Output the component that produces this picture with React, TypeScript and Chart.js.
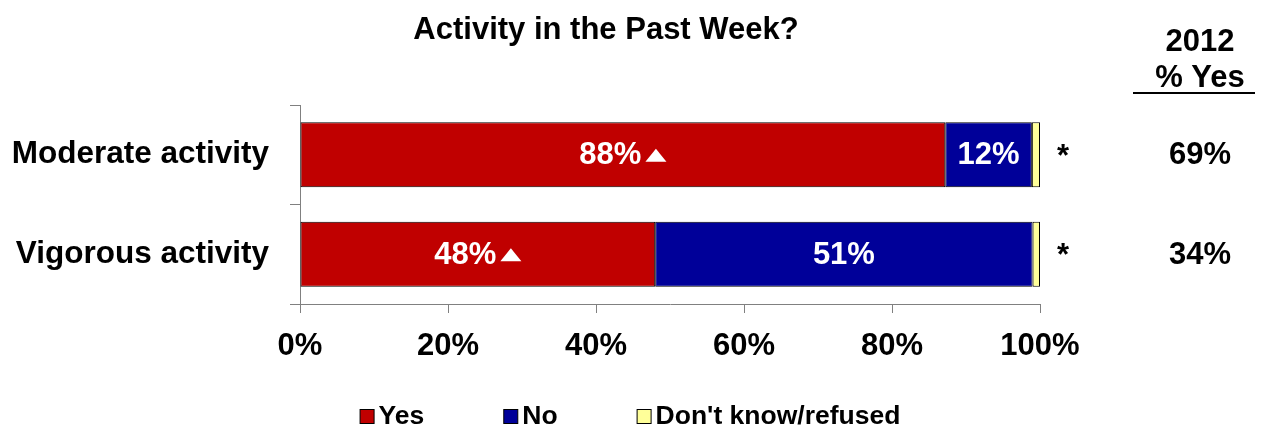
import { useEffect, useRef } from 'react';
import { Chart, registerables } from 'chart.js';

Chart.register(...registerables);

const categories = ['Moderate activity', 'Vigorous activity'];
const yesValues = [87.2, 48.0];
const noValues = [11.7, 51.0];
const dkValues = [1.1, 1.0];
const yesLabels = ['88%', '48%'];
const noLabels = ['12%', '51%'];
const yesSignificantUp = [true, true];
const dkLabels = ['*', '*'];
const yes2012 = ['69%', '34%'];
const seriesNames = ['Yes', 'No', "Don't know/refused"];
const seriesColors = ['#C00000', '#000099', '#FFFF99'];
const titleText = 'Activity in the Past Week?';
const sideHeader = ['2012', '% Yes'];

const FONT = "'Liberation Sans', Arial, Helvetica, sans-serif";

const overlayPlugin = {
  id: 'overlay',
  afterDatasetsDraw(chart: any) {
    const ctx = chart.ctx as CanvasRenderingContext2D;
    const yesMeta = chart.getDatasetMeta(0);
    const noMeta = chart.getDatasetMeta(1);
    const dkMeta = chart.getDatasetMeta(2);
    ctx.save();
    ctx.textBaseline = 'middle';
    ctx.font = `bold 31px ${FONT}`;
    categories.forEach((_, i) => {
      const yb = yesMeta.data[i] as any;
      const nb = noMeta.data[i] as any;
      const db = dkMeta.data[i] as any;
      const cy = yb.y + 1;
      const cxYes = (yb.x + yb.base) / 2;
      const txt = yesLabels[i];
      const w = ctx.measureText(txt).width;
      const triW = yesSignificantUp[i] ? 21 : 0;
      const gap = yesSignificantUp[i] ? 4 : 0;
      const start = cxYes - (w + gap + triW) / 2;
      ctx.fillStyle = '#FFFFFF';
      ctx.textAlign = 'left';
      ctx.fillText(txt, start, cy);
      if (yesSignificantUp[i]) {
        const tx = start + w + gap;
        ctx.beginPath();
        ctx.moveTo(tx, cy + 6);
        ctx.lineTo(tx + triW, cy + 6);
        ctx.lineTo(tx + triW / 2, cy - 7);
        ctx.closePath();
        ctx.fill();
      }
      ctx.textAlign = 'center';
      ctx.fillText(noLabels[i], (nb.x + nb.base) / 2, cy);
      ctx.fillStyle = '#000000';
      ctx.textBaseline = 'alphabetic';
      ctx.fillText(dkLabels[i], db.x + 23, yb.y + 11);
      ctx.textBaseline = 'middle';
      ctx.fillText(yes2012[i], 1200, cy);
    });

    // Title
    ctx.fillStyle = '#000000';
    ctx.textAlign = 'center';
    ctx.textBaseline = 'alphabetic';
    ctx.font = `bold 31px ${FONT}`;
    ctx.fillText(titleText, 606, 39);

    // side header
    ctx.fillText(sideHeader[0], 1200, 51);
    ctx.fillText(sideHeader[1], 1200, 87);
    ctx.strokeStyle = '#000000';
    ctx.lineWidth = 2;
    ctx.beginPath();
    ctx.moveTo(1133, 93);
    ctx.lineTo(1255, 93);
    ctx.stroke();

    // Legend
    ctx.textBaseline = 'middle';
    ctx.font = `bold 26.5px ${FONT}`;
    const box = 14;
    const boxGap = 5;
    const itemGap = 79;
    const widths = seriesNames.map((n) => box + boxGap + ctx.measureText(n).width);
    const total = widths.reduce((a, b) => a + b, 0) + itemGap * (widths.length - 1);
    let x = 630 - total / 2;
    const ly = 416;
    seriesNames.forEach((n, k) => {
      ctx.fillStyle = seriesColors[k];
      ctx.fillRect(x + 0.5, ly - box / 2 + 0.5, box, box);
      ctx.strokeStyle = '#000000';
      ctx.lineWidth = 1;
      ctx.strokeRect(x + 0.5, ly - box / 2 + 0.5, box, box);
      ctx.fillStyle = '#000000';
      ctx.textAlign = 'left';
      ctx.fillText(n, x + box + boxGap, ly + 1);
      x += widths[k] + itemGap;
    });
    ctx.restore();
  },
};

export default function App() {
  const canvasRef = useRef<HTMLCanvasElement | null>(null);

  useEffect(() => {
    document.body.style.margin = '0';
    const canvas = canvasRef.current;
    if (!canvas) return;
    const values = [yesValues, noValues, dkValues];
    const chart = new Chart(canvas, {
      type: 'bar',
      data: {
        labels: categories,
        datasets: seriesNames.map((name, k) => ({
          label: name,
          data: values[k],
          backgroundColor: seriesColors[k],
          borderColor: '#000000',
          borderWidth: 1,
          borderSkipped: false,
          categoryPercentage: 0.8,
          barPercentage: 0.817,
        })),
      },
      options: {
        indexAxis: 'y',
        responsive: false,
        animation: false,
        devicePixelRatio: 1,
        layout: { padding: { left: 0, right: 228, top: 105, bottom: 0 } },
        plugins: {
          legend: { display: false },
          title: { display: false },
          tooltip: { enabled: false },
        },
        scales: {
          x: {
            stacked: true,
            min: 0,
            max: 100,
            ticks: {
              stepSize: 20,
              callback: (v: any) => `${v}%`,
              color: '#000000',
              font: { family: FONT, size: 31, weight: 'bold' },
              padding: 15,
              maxRotation: 0,
            },
            grid: { drawOnChartArea: false, tickLength: 9, color: '#808080' },
            border: { color: '#808080' },
            afterFit: (scale: any) => {
              scale.height = 126;
            },
          },
          y: {
            stacked: true,
            ticks: {
              color: '#000000',
              font: { family: FONT, size: 31.5, weight: 'bold' },
              padding: 21,
            },
            grid: { offset: true, drawOnChartArea: false, tickLength: 10, color: '#808080' },
            border: { color: '#808080' },
            afterFit: (scale: any) => {
              scale.width = 300;
            },
          },
        },
      },
      plugins: [overlayPlugin],
    });
    return () => chart.destroy();
  }, []);

  return (
    <div style={{ width: 1268, height: 430 }}>
      <canvas ref={canvasRef} width={1268} height={430} />
    </div>
  );
}
